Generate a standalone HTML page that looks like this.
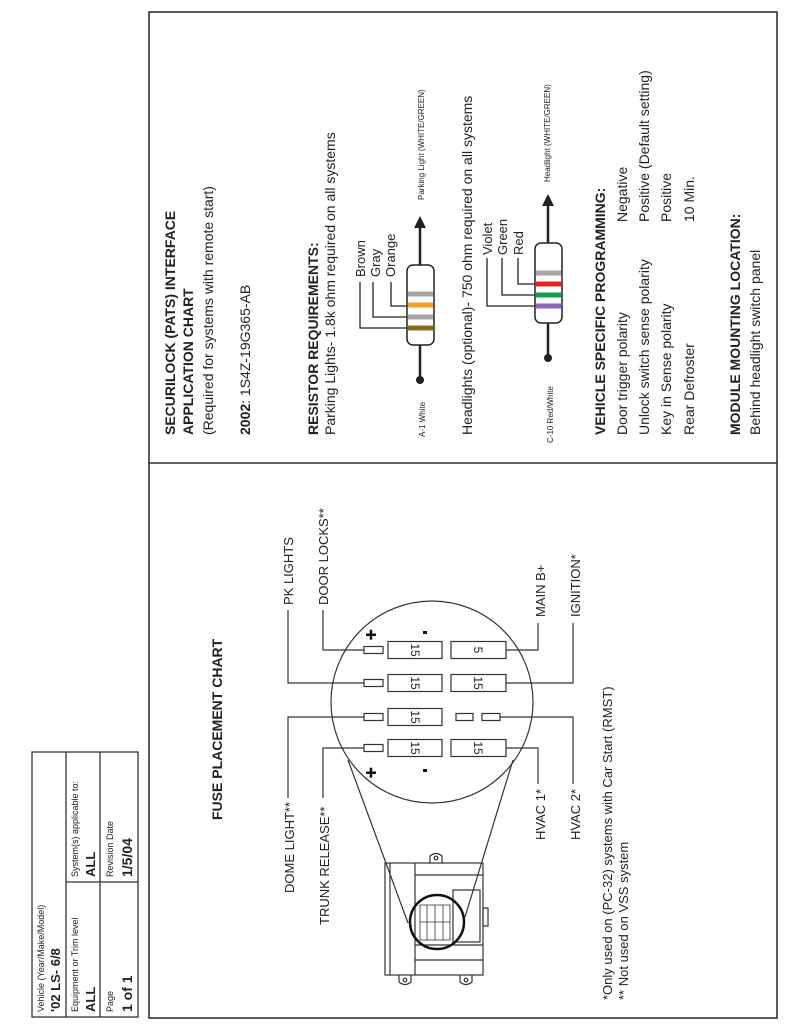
<!DOCTYPE html>
<html><head><meta charset="utf-8"><style>
html,body{margin:0;padding:0;background:#fff;}
svg{display:block;font-family:"Liberation Sans",Arial,sans-serif;}
.b{font-weight:bold;}
</style></head><body>
<svg width="800" height="1035" viewBox="0 0 800 1035" xmlns="http://www.w3.org/2000/svg">
<g fill="none" stroke="#333" stroke-width="1.3">
<rect x="32" y="752" width="106" height="265"/>
<line x1="66" y1="752" x2="66" y2="1017"/>
<line x1="100" y1="752" x2="100" y2="1017"/>
<line x1="66" y1="882" x2="138" y2="882"/>
<rect x="149" y="12" width="628" height="1006" stroke-width="1.6"/>
<line x1="149" y1="463" x2="777" y2="463" stroke-width="1.6"/>
</g>

<g fill="#222">
<text transform="translate(44,1012) rotate(-90)" font-size="9">Vehicle (Year/Make/Model)</text>
<text class="b" transform="translate(60,1012) rotate(-90)" font-size="13">'02 LS- 6/8</text>
<text transform="translate(78,1012) rotate(-90)" font-size="9">Equipment or Trim level</text>
<text class="b" transform="translate(95,1012) rotate(-90)" font-size="13">ALL</text>
<text transform="translate(78,877) rotate(-90)" font-size="9">System(s) applicable to:</text>
<text class="b" transform="translate(95,877) rotate(-90)" font-size="13">ALL</text>
<text transform="translate(113,1012) rotate(-90)" font-size="9">Page</text>
<text class="b" transform="translate(132,1012) rotate(-90)" font-size="14">1 of 1</text>
<text transform="translate(113,877) rotate(-90)" font-size="9">Revision Date</text>
<text class="b" transform="translate(132,877) rotate(-90)" font-size="14">1/5/04</text>
</g>

<g fill="#222" font-size="13">
<text class="b" transform="translate(222,820) rotate(-90)" font-size="14">FUSE PLACEMENT CHART</text>
<text transform="translate(293,605) rotate(-90)">PK LIGHTS</text>
<text transform="translate(328,605) rotate(-90)">DOOR LOCKS**</text>
<text transform="translate(294,893) rotate(-90)">DOME LIGHT**</text>
<text transform="translate(329,925) rotate(-90)">TRUNK RELEASE**</text>
<text transform="translate(545,617) rotate(-90)">MAIN B+</text>
<text transform="translate(580,617) rotate(-90)">IGNITION*</text>
<text transform="translate(545,840) rotate(-90)">HVAC 1*</text>
<text transform="translate(580,840) rotate(-90)">HVAC 2*</text>
<text transform="translate(612,1000) rotate(-90)">*Only used on (PC-32) systems with Car Start (RMST)</text>
<text transform="translate(628,1000) rotate(-90)">** Not used on VSS system</text>
</g>
<g fill="none" stroke="#333" stroke-width="1.2">
<circle cx="432" cy="702" r="101"/>
<path d="M364 650 H323 V610 M364 683 H288 V610 M364 717 H288 V798 M364 748 H323 V798"/>
<path d="M506 650 H538 V623 M506 683 H573 V623 M500 717 H573 V784 M506 748 H538 V784"/>
<rect x="364" y="646.5" width="19" height="7"/>
<rect x="364" y="679.5" width="19" height="7"/>
<rect x="364" y="713.5" width="19" height="7"/>
<rect x="364" y="744.5" width="19" height="7"/>
<rect x="388" y="641.5" width="54" height="17"/>
<rect x="388" y="674.5" width="54" height="17"/>
<rect x="388" y="708.5" width="54" height="17"/>
<rect x="388" y="739.5" width="54" height="17"/>
<rect x="451" y="641.5" width="55" height="17"/>
<rect x="451" y="674.5" width="55" height="17"/>
<rect x="451" y="739.5" width="55" height="17"/>
<rect x="456" y="713.5" width="17" height="7"/>
<rect x="482" y="713.5" width="18" height="7"/>
<line x1="348" y1="760" x2="408" y2="923"/>
<line x1="513" y1="760" x2="465" y2="917"/>
<rect x="385" y="863" width="98" height="112"/>
<line x1="390" y1="863" x2="390" y2="975"/>
<line x1="415" y1="863" x2="415" y2="975"/>
<line x1="415" y1="875" x2="483" y2="875"/>
<line x1="415" y1="945" x2="483" y2="945"/>
<line x1="415" y1="960" x2="483" y2="960"/>
<rect x="453" y="890" width="27" height="52"/>
<rect x="483" y="908" width="5" height="18"/>
<path d="M430 863 V856 Q436 851 442 856 V863"/>
<circle cx="436" cy="858" r="1.8"/>
<path d="M399 975 V982 Q405 987 411 982 V975"/>
<circle cx="405" cy="980" r="1.8"/>
<path d="M460 975 V982 Q466 987 472 982 V975"/>
<circle cx="466" cy="980" r="1.8"/>
<rect x="420" y="905" width="30" height="35" stroke-width="0.8"/>
<line x1="427" y1="905" x2="427" y2="940" stroke-width="0.8"/>
<line x1="435" y1="905" x2="435" y2="940" stroke-width="0.8"/>
<line x1="443" y1="905" x2="443" y2="940" stroke-width="0.8"/>
<line x1="420" y1="922" x2="450" y2="922" stroke-width="0.8"/>
<circle cx="437" cy="922" r="27" stroke-width="2.5" stroke="#111"/>
</g>
<g fill="#222" font-size="12" text-anchor="middle">
<text transform="translate(415,650) rotate(90)" dy="4">15</text>
<text transform="translate(415,683) rotate(90)" dy="4">15</text>
<text transform="translate(415,717) rotate(90)" dy="4">15</text>
<text transform="translate(415,748) rotate(90)" dy="4">15</text>
<text transform="translate(478,650) rotate(90)" dy="4">5</text>
<text transform="translate(478,683) rotate(90)" dy="4">15</text>
<text transform="translate(478,748) rotate(90)" dy="4">15</text>
</g>
<g fill="#111">
<rect x="366" y="633.5" width="10" height="2.5"/><rect x="369.7" y="629.7" width="2.5" height="10"/>
<rect x="366" y="771.5" width="10" height="2.5"/><rect x="369.7" y="767.7" width="2.5" height="10"/>
<rect x="423" y="631" width="4" height="3"/>
<rect x="423" y="769" width="4" height="3"/>
</g>

<g fill="#222" font-size="14">
<text class="b" transform="translate(175,435) rotate(-90)">SECURILOCK (PATS) INTERFACE</text>
<text class="b" transform="translate(193,435) rotate(-90)">APPLICATION CHART</text>
<text transform="translate(213,435) rotate(-90)">(Required for systems with remote start)</text>
<text transform="translate(250,435) rotate(-90)"><tspan class="b">2002</tspan>: 1S4Z-19G365-AB</text>
<text class="b" transform="translate(318,435) rotate(-90)">RESISTOR REQUIREMENTS:</text>
<text transform="translate(335,435) rotate(-90)">Parking Lights- 1.8k ohm required on all systems</text>
<text transform="translate(472,435) rotate(-90)">Headlights (optional)- 750 ohm required on all systems</text>
<text class="b" transform="translate(605,435) rotate(-90)">VEHICLE SPECIFIC PROGRAMMING:</text>
<text transform="translate(627,435) rotate(-90)">Door trigger polarity</text>
<text transform="translate(649,435) rotate(-90)">Unlock switch sense polarity</text>
<text transform="translate(671,435) rotate(-90)">Key in Sense polarity</text>
<text transform="translate(694,435) rotate(-90)">Rear Defroster</text>
<text transform="translate(627,222) rotate(-90)">Negative</text>
<text transform="translate(649,222) rotate(-90)">Positive (Default setting)</text>
<text transform="translate(671,222) rotate(-90)">Positive</text>
<text transform="translate(694,222) rotate(-90)">10 Min.</text>
<text class="b" transform="translate(740,435) rotate(-90)">MODULE MOUNTING LOCATION:</text>
<text transform="translate(760,435) rotate(-90)">Behind headlight switch panel</text>
</g>
<g fill="#222" font-size="13">
<text transform="translate(365,277) rotate(-90)">Brown</text>
<text transform="translate(380,277) rotate(-90)">Gray</text>
<text transform="translate(395,277) rotate(-90)">Orange</text>
<text transform="translate(492,255) rotate(-90)">Violet</text>
<text transform="translate(507,255) rotate(-90)">Green</text>
<text transform="translate(523,255) rotate(-90)">Red</text>
</g>
<g fill="#222" font-size="8">
<text transform="translate(425,437) rotate(-90)">A-1 White</text>
<text transform="translate(424,200) rotate(-90)">Parking Light (WHITE/GREEN)</text>
<text transform="translate(553,443) rotate(-90)">C-10 Red/White</text>
<text transform="translate(550,182) rotate(-90)">Headlight (WHITE/GREEN)</text>
</g>
<g stroke="#222" fill="none" stroke-width="1.3">
<line x1="420" y1="380" x2="420" y2="225" stroke-width="2.5"/>
<path d="M360 282 V328 H407 M373 282 V317 H407 M391 282 V306 H407"/>
<line x1="548" y1="358" x2="548" y2="203" stroke-width="2.5"/>
<path d="M487 258 V306 H535 M502 258 V295 H535 M518 258 V284 H535"/>
</g>
<circle cx="420" cy="380" r="4" fill="#222"/>
<polygon points="420,216 414,228 426,228" fill="#222"/>
<rect x="407" y="265" width="27" height="80" rx="6" fill="#fff" stroke="#222" stroke-width="1.5"/>
<rect x="408" y="291.5" width="25" height="5" fill="#a6a6a6"/>
<rect x="408" y="302.5" width="25" height="5" fill="#f0a020"/>
<rect x="408" y="314.5" width="25" height="5" fill="#a6a6a6"/>
<rect x="408" y="325.5" width="25" height="5" fill="#8b6a1e"/>
<circle cx="548" cy="358" r="4" fill="#222"/>
<polygon points="548,194 542,206 554,206" fill="#222"/>
<rect x="535" y="243" width="27" height="80" rx="6" fill="#fff" stroke="#222" stroke-width="1.5"/>
<rect x="536" y="270.5" width="25" height="5" fill="#a6a6a6"/>
<rect x="536" y="281.5" width="25" height="5" fill="#e02525"/>
<rect x="536" y="292.5" width="25" height="5" fill="#12a048"/>
<rect x="536" y="303.5" width="25" height="5" fill="#8a6ab5"/>
</svg>
</body></html>
